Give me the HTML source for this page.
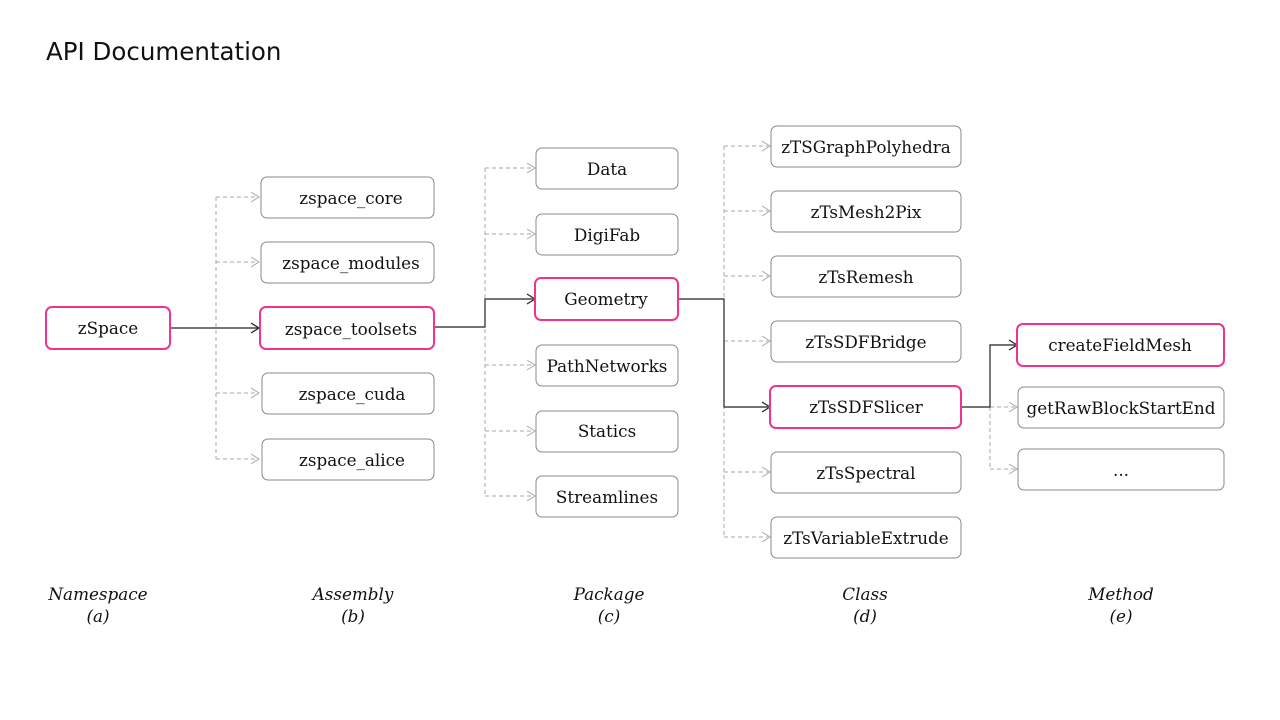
<!DOCTYPE html>
<html><head><meta charset="utf-8"><style>
html,body{margin:0;padding:0;background:#fff;}
svg{display:block;}
.b{fill:#fff;stroke:#888;stroke-width:1;}
.p{fill:#fff;stroke:#f0338f;stroke-width:2;}
.t{font-family:"DejaVu Serif",serif;font-size:16.8px;fill:#111;text-anchor:middle;dominant-baseline:central;}
.l{font-family:"DejaVu Serif",serif;font-size:16.8px;font-style:italic;fill:#111;text-anchor:middle;}
.d{stroke:#aaa;stroke-width:1;stroke-dasharray:4,3;fill:none;}
.s{stroke:#222;stroke-width:1.2;fill:none;}
.ad{stroke:#aaa;stroke-width:1;fill:none;}
.as{stroke:#222;stroke-width:1.2;fill:none;}
</style></head><body>
<svg width="1280" height="720" viewBox="0 0 1280 720">
<text x="46" y="60" font-family="DejaVu Sans,sans-serif" font-size="24.5" fill="#111">API Documentation</text>

<path class="d" d="M216 197V459"/>
<path class="d" d="M216 197H258M216 262H258M216 393H258M216 459H258"/>
<path class="s" d="M170 328H258"/>
<path class="d" d="M485 168V496"/>
<path class="d" d="M485 168H533M485 234H533M485 365H533M485 431H533M485 496H533"/>
<path class="s" d="M434 327H485V299H533"/>
<path class="d" d="M724 146V537"/>
<path class="d" d="M724 146H768M724 211H768M724 276H768M724 341H768M724 472H768M724 537H768"/>
<path class="s" d="M678 299H724V407H768"/>
<path class="d" d="M990 407V469"/>
<path class="d" d="M990 407H1015M990 469H1015"/>
<path class="s" d="M961 407H990V345H1015"/>

<g class="ad">
<path d="M251 192L259 197L251 202"/><path d="M251 257L259 262L251 267"/><path d="M251 388L259 393L251 398"/><path d="M251 454L259 459L251 464"/>
<path d="M527 163L535 168L527 173"/><path d="M527 229L535 234L527 239"/><path d="M527 360L535 365L527 370"/><path d="M527 426L535 431L527 436"/><path d="M527 491L535 496L527 501"/>
<path d="M762 141L770 146L762 151"/><path d="M762 206L770 211L762 216"/><path d="M762 271L770 276L762 281"/><path d="M762 336L770 341L762 346"/><path d="M762 467L770 472L762 477"/><path d="M762 532L770 537L762 542"/>
<path d="M1009 402L1017 407L1009 412"/><path d="M1009 464L1017 469L1009 474"/>
</g>
<g class="as">
<path d="M251 323L259 328L251 333"/><path d="M527 294L535 299L527 304"/><path d="M762 402L770 407L762 412"/><path d="M1009 340L1017 345L1009 350"/>
</g>

<rect class="p" x="46" y="307" width="124" height="42" rx="6"/><text class="t" x="108" y="328">zSpace</text>

<rect class="b" x="261" y="177" width="173" height="41" rx="6"/><text class="t" x="351" y="198">zspace_core</text>
<rect class="b" x="261" y="242" width="173" height="41" rx="6"/><text class="t" x="351" y="263">zspace_modules</text>
<rect class="p" x="260" y="307" width="174" height="42" rx="6"/><text class="t" x="351" y="329">zspace_toolsets</text>
<rect class="b" x="262" y="373" width="172" height="41" rx="6"/><text class="t" x="352" y="394">zspace_cuda</text>
<rect class="b" x="262" y="439" width="172" height="41" rx="6"/><text class="t" x="352" y="460">zspace_alice</text>

<rect class="b" x="536" y="148" width="142" height="41" rx="6"/><text class="t" x="607" y="169">Data</text>
<rect class="b" x="536" y="214" width="142" height="41" rx="6"/><text class="t" x="607" y="235">DigiFab</text>
<rect class="p" x="535" y="278" width="143" height="42" rx="6"/><text class="t" x="606" y="299">Geometry</text>
<rect class="b" x="536" y="345" width="142" height="41" rx="6"/><text class="t" x="607" y="366">PathNetworks</text>
<rect class="b" x="536" y="411" width="142" height="41" rx="6"/><text class="t" x="607" y="431">Statics</text>
<rect class="b" x="536" y="476" width="142" height="41" rx="6"/><text class="t" x="607" y="497">Streamlines</text>

<rect class="b" x="771" y="126" width="190" height="41" rx="6"/><text class="t" x="866" y="147">zTSGraphPolyhedra</text>
<rect class="b" x="771" y="191" width="190" height="41" rx="6"/><text class="t" x="866" y="212">zTsMesh2Pix</text>
<rect class="b" x="771" y="256" width="190" height="41" rx="6"/><text class="t" x="866" y="277">zTsRemesh</text>
<rect class="b" x="771" y="321" width="190" height="41" rx="6"/><text class="t" x="866" y="342">zTsSDFBridge</text>
<rect class="p" x="770" y="386" width="191" height="42" rx="6"/><text class="t" x="866" y="407">zTsSDFSlicer</text>
<rect class="b" x="771" y="452" width="190" height="41" rx="6"/><text class="t" x="866" y="473">zTsSpectral</text>
<rect class="b" x="771" y="517" width="190" height="41" rx="6"/><text class="t" x="866" y="538">zTsVariableExtrude</text>

<rect class="p" x="1017" y="324" width="207" height="42" rx="6"/><text class="t" x="1120" y="345">createFieldMesh</text>
<rect class="b" x="1018" y="387" width="206" height="41" rx="6"/><text class="t" x="1121" y="408">getRawBlockStartEnd</text>
<rect class="b" x="1018" y="449" width="206" height="41" rx="6"/><text class="t" x="1121" y="470">...</text>

<text class="l" x="98" y="600">Namespace</text><text class="l" x="98" y="622">(a)</text>
<text class="l" x="353" y="600">Assembly</text><text class="l" x="353" y="622">(b)</text>
<text class="l" x="609" y="600">Package</text><text class="l" x="609" y="622">(c)</text>
<text class="l" x="865" y="600">Class</text><text class="l" x="865" y="622">(d)</text>
<text class="l" x="1121" y="600">Method</text><text class="l" x="1121" y="622">(e)</text>
</svg>
</body></html>
